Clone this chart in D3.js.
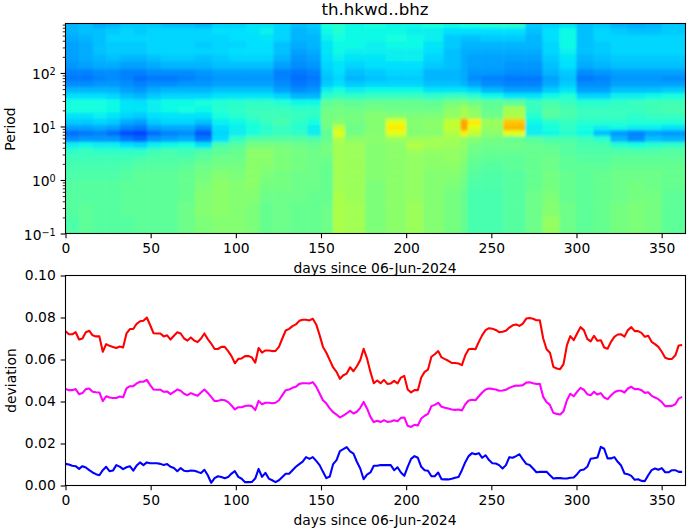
<!DOCTYPE html>
<html>
<head>
<meta charset="utf-8">
<script src="https://cdn.jsdelivr.net/npm/d3@7"></script>
<style>
  html, body { margin: 0; padding: 0; background: #fff; }
  text { font-family: "DejaVu Sans", sans-serif; fill: #000; }
</style>
</head>
<body>
<svg id="chart" width="690" height="531"></svg>
<script>
// heatmap: period band centres (top to bottom), column edges in days, jet index per cell
var periods = [800, 600, 450, 330, 250, 190, 140, 100, 78, 62, 48, 37, 28, 21, 16, 12, 9.5, 7.5, 5.8, 4.5, 3.4, 2.5, 1.8, 1.2, 0.8, 0.5, 0.3, 0.15];
var dayEdges = [0, 8, 16, 24, 32, 40, 48, 56, 66, 76, 86, 96, 106, 114, 122, 132, 142, 150, 157, 164, 176, 188, 200, 210, 222, 232, 236, 244, 257, 270, 280, 290, 300, 310, 320, 330, 340, 350, 364];
var cellValues = [
  [30,31,29,30,32,32,32,31,31,30,33,33,35,35,33,31,32,38,40,37,38,37,37,38,37,38,38,39,40,32,33,35,31,32,30,29,30,32],
  [30,31,31,32,33,32,33,33,33,33,34,34,35,36,33,30,31,37,39,37,37,37,36,36,34,34,34,34,34,31,34,37,31,33,32,31,31,32],
  [29,30,31,33,33,33,33,33,33,33,33,34,34,35,33,30,30,36,38,37,37,38,37,36,32,31,31,32,32,30,34,37,31,33,33,33,33,33],
  [28,29,31,32,32,32,33,33,33,32,33,33,34,34,31,29,30,35,37,37,36,37,37,35,32,30,30,30,30,30,33,37,31,32,33,33,33,33],
  [28,29,31,32,32,32,33,33,33,33,33,34,34,34,31,28,29,35,37,36,36,36,36,34,31,29,29,29,29,29,33,36,31,32,33,33,33,33],
  [28,29,30,31,30,30,31,32,32,31,32,33,33,33,30,27,28,34,36,35,35,36,36,33,31,29,28,28,28,28,32,35,30,31,32,32,32,32],
  [27,28,29,29,28,28,29,30,30,30,31,31,31,31,28,26,27,33,35,33,34,34,34,32,31,29,28,28,27,27,31,34,29,30,31,31,31,31],
  [25,25,26,26,25,25,26,26,26,27,28,28,28,28,25,24,25,32,34,31,32,33,33,30,30,29,27,27,26,26,30,32,26,27,28,28,28,28],
  [24,24,25,26,25,23,24,24,25,26,27,27,27,27,25,23,24,31,33,30,31,32,32,30,30,29,26,25,24,24,28,31,24,25,27,27,27,26],
  [26,26,27,27,26,25,26,26,27,27,28,28,28,28,26,24,25,32,34,32,33,33,33,31,31,30,28,26,25,25,29,32,26,26,28,28,28,28],
  [30,30,30,30,28,27,29,30,30,30,31,31,31,31,28,26,27,36,38,36,37,37,37,35,35,35,33,30,28,28,32,35,28,28,31,31,31,32],
  [34,34,34,33,31,30,32,33,33,33,35,35,35,35,33,30,30,40,42,41,42,42,42,41,42,42,40,37,35,35,37,39,33,33,36,36,37,38],
  [38,38,38,37,35,34,36,37,37,38,39,40,41,41,39,37,37,47,48,47,48,48,48,47,50,51,49,47,47,42,44,42,40,40,41,42,43,43],
  [38,38,38,37,35,35,36,37,38,37,40,41,42,42,42,41,41,49,50,49,50,49,49,49,53,56,53,48,56,42,46,44,42,42,42,42,43,44],
  [35,35,36,35,33,32,34,35,35,35,38,40,42,43,43,42,41,50,50,50,52,52,51,51,54,57,54,49,57,40,46,44,42,42,42,41,42,42],
  [32,32,33,32,29,28,32,33,33,31,36,37,39,42,44,41,38,50,52,50,52,64,52,53,60,74,66,55,70,37,40,42,40,40,40,39,39,39],
  [28,28,29,28,25,24,28,29,29,26,34,36,38,40,42,40,36,49,60,49,52,66,52,53,60,74,64,54,72,36,38,41,38,36,37,36,36,35],
  [23,24,25,23,20,19,23,25,26,21,33,36,38,41,42,41,36,47,64,50,52,64,52,52,58,66,60,53,64,36,37,40,37,31,27,25,28,27],
  [26,27,27,27,24,22,27,28,29,24,34,41,46,46,46,46,45,48,58,53,53,55,55,56,56,54,52,50,48,46,44,44,43,40,30,26,31,30],
  [36,37,36,36,34,33,36,37,38,35,44,46,50,50,50,49,48,50,56,55,52,53,58,56,55,54,50,49,49,48,47,46,44,44,40,38,40,41],
  [41,42,41,41,41,41,43,44,43,45,47,48,53,53,51,50,49,50,56,55,52,53,55,54,54,53,49,48,48,48,48,46,45,45,45,45,45,46],
  [43,43,43,43,43,44,45,45,45,47,49,49,53,53,51,50,49,49,56,55,52,53,54,53,54,52,48,47,47,48,49,47,46,46,47,47,47,47],
  [44,44,44,44,45,46,46,46,47,49,50,50,53,52,51,50,49,48,56,55,52,53,54,53,53,51,47,46,47,48,49,47,47,47,48,48,48,48],
  [45,45,45,45,46,47,47,47,48,50,52,51,53,51,50,49,49,48,56,55,52,53,54,52,52,50,46,45,46,48,50,48,47,48,49,49,49,48],
  [46,46,46,46,47,47,47,47,48,51,53,52,53,50,50,49,49,48,56,55,51,53,54,52,51,49,45,45,46,48,50,48,47,48,49,50,49,48],
  [46,46,46,46,47,47,47,47,48,52,53,52,52,49,49,49,48,48,57,55,51,53,54,52,50,48,44,44,46,49,51,48,47,48,49,50,50,47],
  [46,47,46,46,47,47,47,47,49,52,53,52,51,48,49,48,48,49,57,56,51,53,55,52,50,48,44,44,46,49,52,49,47,48,50,51,50,47],
  [45,47,46,46,46,47,47,47,49,51,52,52,51,48,49,48,48,49,57,56,51,53,55,52,50,48,44,44,46,49,54,49,47,48,50,51,50,47]
];

// deviation series, 183 samples over the year
var redValues = [
  .0735,.072,.072,.073,.0695,.07,.073,.0737,.0715,.071,.071,.0637,.0673,.0665,.066,.0655,.0662,.0657,.0724,.0745,
  .0745,.077,.0782,.0785,.08,.0763,.0725,.0724,.0724,.071,.0715,.0695,.0713,.073,.0724,.07,.069,.0705,.069,.0683,
  .07,.0724,.0697,.0676,.065,.065,.066,.066,.064,.0616,.0582,.0603,.0605,.0616,.0617,.061,.0585,.0655,.0633,.0643,
  .0643,.064,.0641,.066,.07,.0738,.0746,.0759,.0767,.0784,.0789,.0789,.0786,.0794,.0767,.0716,.066,.0632,.0597,.0562,
  .0541,.0508,.0525,.0533,.0563,.0544,.0568,.0597,.0651,.0605,.0541,.0487,.05,.0487,.0503,.0484,.0486,.0498,.0486,.0514,
  .0522,.0457,.0443,.0454,.0454,.0514,.0541,.0552,.0613,.0625,.064,.061,.0602,.0594,.0584,.0583,.0581,.0573,.062,.0649,
  .0651,.0649,.0684,.0716,.074,.0749,.0746,.0741,.073,.0732,.0737,.0752,.0763,.0767,.076,.0771,.0795,.0798,.0794,.0787,
  .0787,.07,.0649,.0632,.0565,.0557,.0554,.0578,.0668,.0711,.0692,.0724,.0754,.074,.0698,.0686,.0713,.0689,.0692,.0657,
  .0651,.0684,.0708,.0719,.072,.0709,.074,.0754,.0735,.0735,.0727,.0708,.0713,.0684,.0673,.066,.0637,.0608,.0602,.0603,
  .062,.0667,.0669
];
var magentaValues = [
  .046,.0454,.0454,.0459,.0435,.044,.0459,.0462,.0446,.0444,.0443,.0402,.0425,.0419,.0417,.0417,.0424,.042,.0462,.0473,
  .0473,.0486,.0494,.0494,.0503,.0478,.0457,.0456,.0456,.0446,.0448,.0435,.0446,.0457,.0451,.0437,.043,.044,.0433,.0427,
  .0443,.0457,.0441,.0422,.0402,.0403,.0408,.0406,.0397,.0381,.0362,.0373,.0373,.0379,.0381,.0378,.0359,.0403,.0387,.0394,
  .0394,.0392,.0394,.0406,.043,.0454,.0457,.0465,.047,.0484,.0487,.0487,.0486,.0492,.0471,.0438,.0406,.039,.0367,.0349,
  .0338,.0324,.0333,.0343,.0356,.0343,.0351,.037,.0398,.0367,.0327,.0302,.0308,.0302,.0311,.0303,.0305,.0311,.0306,.0322,
  .0324,.0284,.0279,.0289,.0286,.0319,.0332,.0341,.0378,.0384,.0394,.0375,.037,.0367,.0362,.036,.0362,.0357,.0387,.0405,
  .0408,.0406,.0425,.0443,.0457,.0462,.046,.0457,.0451,.0452,.0456,.0465,.0471,.0476,.0475,.0478,.049,.0492,.0487,.0483,
  .0484,.0422,.0397,.0383,.0346,.0341,.0338,.0354,.0406,.0437,.0425,.0446,.0465,.0456,.0435,.043,.0446,.0433,.044,.0419,
  .0411,.0429,.0444,.0451,.0451,.0443,.0462,.047,.0459,.0459,.0454,.0441,.0444,.0427,.0419,.0411,.0397,.0378,.0378,.0379,
  .0387,.0414,.0422
];
var blueValues = [
  .0103,.01,.0094,.0092,.0079,.0092,.0086,.0073,.0062,.0054,.0049,.0073,.0089,.0068,.0071,.0097,.009,.0078,.0087,.0092,
  .0071,.0095,.011,.0097,.011,.0106,.0106,.0106,.0103,.0098,.0102,.0089,.0083,.0068,.0083,.007,.0068,.0071,.007,.0065,
  .0059,.0075,.0049,.0013,.0035,.0044,.004,.0035,.004,.0057,.0068,.0041,.0032,.0016,.0016,.0017,.0033,.0079,.0041,.006,
  .0033,.0025,.0016,.0025,.0041,.0056,.0056,.0073,.0089,.0102,.0114,.0135,.0127,.0135,.0117,.0097,.0065,.0035,.0043,.0102,
  .0121,.0164,.0173,.0183,.0162,.0152,.0113,.0081,.003,.0052,.0062,.0094,.0094,.0098,.0097,.0097,.0097,.0073,.0087,.0062,
  .0046,.0089,.0127,.014,.0132,.0089,.0073,.007,.0044,.0044,.0062,.003,.0029,.0029,.0032,.0037,.004,.0073,.0111,.014,
  .0154,.0149,.0154,.0132,.0144,.0121,.0106,.0105,.0097,.0081,.0097,.0135,.0132,.014,.0149,.0124,.0103,.0098,.0081,.0063,
  .0065,.0065,.0065,.0049,.0033,.0035,.0035,.0033,.0033,.0037,.0038,.0054,.0073,.0076,.0089,.0127,.013,.0133,.0184,.0175,
  .0129,.0129,.0135,.0113,.0095,.0057,.0054,.0046,.0027,.003,.0022,.0021,.0049,.0073,.0081,.0075,.0083,.0063,.0063,.0073,
  .0073,.0065,.0065
];

var dayTicks = [0, 50, 100, 150, 200, 250, 300, 350];
var periodTicks = [0.1, 1, 10, 100];
var periodMinorTicks = [0.2, 0.3, 0.4, 0.5, 0.6, 0.7, 0.8, 0.9, 2, 3, 4, 5, 6, 7, 8, 9, 20, 30, 40, 50, 60, 70, 80, 90, 200, 300, 400, 500, 600, 700, 800];
var devTicks = [0, 0.02, 0.04, 0.06, 0.08, 0.10];
var xLabel = "days since 06-Jun-2024";

var left = 65.5, right = 685.5;
var topAxes = { y0: 23.5, y1: 233.5 }, botAxes = { y0: 275.5, y1: 485.5 };

var svg = d3.select("#chart");

var x = d3.scaleLinear().domain([0, 364]).range([left, right]);
var yPeriod = d3.scaleLog().domain([0.1, 840]).range([topAxes.y1, topAxes.y0]);
var yDev = d3.scaleLinear().domain([0, 0.1]).range([botAxes.y1, botAxes.y0]);

// matplotlib jet
var jet = d3.scaleLinear()
    .domain([0, 11, 12.5, 34, 35, 37.5, 64, 65, 66, 89, 91, 100])
    .range(["#00007f", "#0000ff", "#0000ff", "#00e0ff", "#00e5f7", "#14ffe2", "#e0ff14", "#efff0a", "#ffec00", "#ff1a00", "#ee0000", "#7f0000"])
    .clamp(true);

var defs = svg.append("defs");
defs.append("clipPath").attr("id", "topClip").append("rect")
    .attr("x", left).attr("y", topAxes.y0)
    .attr("width", right - left).attr("height", topAxes.y1 - topAxes.y0);
defs.append("filter").attr("id", "soften")
    .attr("filterUnits", "userSpaceOnUse")
    .attr("x", 0).attr("y", 0).attr("width", 690).attr("height", 300)
    .append("feGaussianBlur").attr("stdDeviation", "1 1.8");

// ----- HEATMAP -----
// band edges are geometric means of neighbouring centres
var bandEdges = [2000];
periods.forEach(function(p, i) {
    if (i < periods.length - 1) bandEdges.push(Math.sqrt(p * periods[i + 1]));
});
bandEdges.push(0.05);

var heat = svg.append("g").attr("clip-path", "url(#topClip)")
    .append("g").attr("filter", "url(#soften)");

cellValues.forEach(function(row, r) {
    row.forEach(function(v, c) {
        // outer columns run past the axes so the blur does not fade at the frame
        var x0 = x(dayEdges[c]) - (c == 0 ? 12 : 0);
        var x1 = x(dayEdges[c + 1]) + (c == row.length - 1 ? 12 : 0);
        var y0 = yPeriod(bandEdges[r]);
        var y1 = yPeriod(bandEdges[r + 1]);
        heat.append("rect")
            .attr("x", x0).attr("y", y0)
            .attr("width", x1 - x0 + 0.5).attr("height", y1 - y0 + 0.5)
            .attr("fill", jet(v));
    });
});

// ----- LINES -----
var days = redValues.map(function(d, i) { return i * 364 / redValues.length; });
var line = d3.line()
    .x(function(d, i) { return x(days[i]); })
    .y(function(d) { return yDev(d); });

[[redValues, "#ff0000"], [magentaValues, "#ff00ff"], [blueValues, "#0000ff"]].forEach(function(s) {
    svg.append("path")
        .attr("d", line(s[0]))
        .attr("fill", "none")
        .attr("stroke", s[1])
        .attr("stroke-width", 2.08)
        .attr("stroke-linejoin", "round");
});

// ----- AXES -----
function styleAxis(g) {
    g.select(".domain").remove();
    g.selectAll(".tick line").attr("stroke", "#000").attr("stroke-width", 1.1);
    g.selectAll(".tick text").attr("fill", "#000")
        .style("font-family", '"DejaVu Sans", sans-serif').style("font-size", "13.89px");
}

function frame(a) {
    svg.append("rect")
        .attr("x", left).attr("y", a.y0)
        .attr("width", right - left).attr("height", a.y1 - a.y0)
        .attr("fill", "none").attr("stroke", "#000").attr("stroke-width", 1.1);
}

function dayAxis(a) {
    svg.append("g")
        .attr("transform", "translate(0," + a.y1 + ")")
        .call(d3.axisBottom(x).tickValues(dayTicks).tickFormat(d3.format("d")).tickSize(4.86).tickPadding(4.9))
        .call(styleAxis);
}

// top panel
dayAxis(topAxes);
var minor = svg.append("g")
    .attr("transform", "translate(" + left + ",0)")
    .call(d3.axisLeft(yPeriod).tickValues(periodMinorTicks).tickFormat("").tickSize(2.78));
minor.select(".domain").remove();
minor.selectAll(".tick line").attr("stroke", "#000").attr("stroke-width", 0.83);

var major = svg.append("g")
    .attr("transform", "translate(" + left + ",0)")
    .call(d3.axisLeft(yPeriod).tickValues(periodTicks).tickFormat("").tickSize(4.86).tickPadding(4.9))
    .call(styleAxis);
major.selectAll(".tick text").each(function(d) {
    var t = d3.select(this);
    t.append("tspan").text("10");
    t.append("tspan").attr("dy", "-0.43em").style("font-size", "9.7px")
        .text(String(Math.round(Math.log10(d))).replace("-", "\u2212"));
    t.attr("dy", "0.42em");
});

// bottom panel
dayAxis(botAxes);
svg.append("g")
    .attr("transform", "translate(" + left + ",0)")
    .call(d3.axisLeft(yDev).tickValues(devTicks).tickFormat(d3.format(".2f")).tickSize(4.86).tickPadding(4.9))
    .call(styleAxis);

frame(topAxes);
frame(botAxes);

// ----- LABELS -----
function label(txt, px, py, size, rotate) {
    svg.append("text")
        .attr("transform", "translate(" + px + "," + py + ")" + (rotate ? " rotate(-90)" : ""))
        .attr("text-anchor", "middle")
        .style("font-size", size + "px")
        .text(txt);
}
label("th.hkwd..bhz", 375, 15, 16.67);
label(xLabel, 375, 273, 13.89);
label(xLabel, 375, 525, 13.89);
label("Period", 14.5, 129, 13.89, true);
label("deviation", 16, 380.5, 13.89, true);
</script>
</body>
</html>
